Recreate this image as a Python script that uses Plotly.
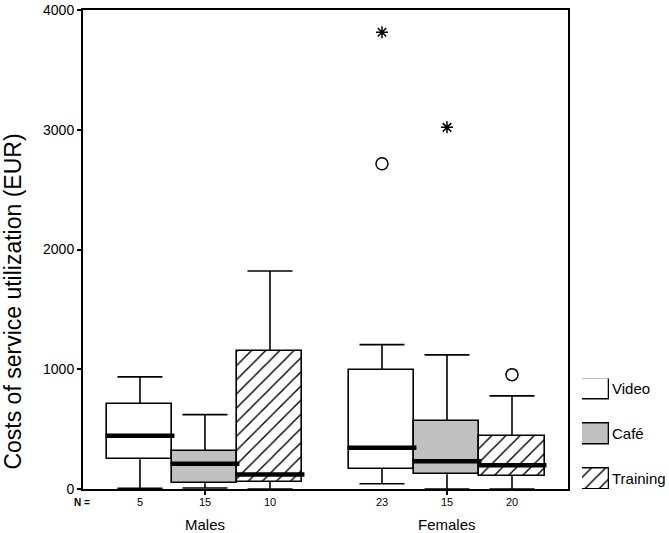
import plotly.graph_objects as go

# ---------------- data ----------------
groups = ["Males", "Females"]
series = ["Video", "Café", "Training"]

n_video = [5, 23]
n_cafe = [15, 15]
n_training = [10, 20]

video_lower = [5, 44]
video_q1 = [248, 168]
video_median = [444, 345]
video_q3 = [710, 994]
video_upper = [936, 1206]

cafe_lower = [8, 0]
cafe_q1 = [47, 124]
cafe_median = [210, 232]
cafe_q3 = [317, 569]
cafe_upper = [621, 1120]

training_lower = [0, 0]
training_q1 = [60, 108]
training_median = [122, 199]
training_q3 = [1155, 444]
training_upper = [1820, 778]

outlier_group = ["Females", "Females", "Females", "Females"]
outlier_series = ["Video", "Video", "Café", "Training"]
outlier_value = [2716, 3814, 3020, 955]
outlier_kind = ["circle", "extreme", "extreme", "circle"]

y_ticks = [0, 1000, 2000, 3000, 4000]

# ---------------- layout constants ----------------
FONT = "Arial, Liberation Sans, sans-serif"
W, H = 669, 533
group_pos = {g: i for i, g in enumerate(groups)}
box_w = 0.2686
cap_w = 0.186
offset = {s: (k - 1) * box_w for k, s in enumerate(series)}
fills = {
    "Video": dict(color="white"),
    "Café": dict(color="#c0c0c0"),
    "Training": dict(color="white",
                     pattern=dict(shape="/", fgcolor="black", bgcolor="white",
                                  size=10, solidity=0.14, fillmode="replace")),
}
stats = {
    "Video": (video_lower, video_q1, video_median, video_q3, video_upper, n_video),
    "Café": (cafe_lower, cafe_q1, cafe_median, cafe_q3, cafe_upper, n_cafe),
    "Training": (training_lower, training_q1, training_median, training_q3,
                 training_upper, n_training),
}

fig = go.Figure()

# boxes
for s in series:
    lo, q1, med, q3, up, n = stats[s]
    xs = [group_pos[g] + offset[s] for g in groups]
    fig.add_trace(go.Bar(
        x=xs, base=q1, y=[b - a for a, b in zip(q1, q3)], width=box_w,
        marker=dict(**fills[s], line=dict(color="black", width=1.6)),
        showlegend=False, hoverinfo="skip", xaxis="x", yaxis="y"))

# whiskers
for s in series:
    lo, q1, med, q3, up, n = stats[s]
    wx, wy = [], []
    for i, g in enumerate(groups):
        c = group_pos[g] + offset[s]
        wx += [c, c, None, c, c, None,
               c - cap_w / 2, c + cap_w / 2, None, c - cap_w / 2, c + cap_w / 2, None]
        wy += [q3[i], up[i], None, q1[i], lo[i], None,
               up[i], up[i], None, lo[i], lo[i], None]
    fig.add_trace(go.Scatter(x=wx, y=wy, mode="lines",
                             line=dict(color="black", width=1.6),
                             showlegend=False, hoverinfo="skip"))

# medians
for s in series:
    lo, q1, med, q3, up, n = stats[s]
    mx, my = [], []
    for i, g in enumerate(groups):
        c = group_pos[g] + offset[s]
        mx += [c - box_w / 2 - 0.008, c + box_w / 2 + 0.008, None]
        my += [med[i], med[i], None]
    fig.add_trace(go.Scatter(x=mx, y=my, mode="lines",
                             line=dict(color="black", width=4.5),
                             showlegend=False, hoverinfo="skip"))

# outliers
for kind, sym, size in [("circle", "circle-open", 12), ("extreme", "asterisk-open", 10)]:
    ox = [group_pos[g] + offset[s] for g, s, k in
          zip(outlier_group, outlier_series, outlier_kind) if k == kind]
    oy = [v for v, k in zip(outlier_value, outlier_kind) if k == kind]
    fig.add_trace(go.Scatter(x=ox, y=oy, mode="markers",
                             marker=dict(symbol=sym, size=size, color="black",
                                         line=dict(color="black", width=1.5)),
                             showlegend=False, hoverinfo="skip"))

# custom legend (swatches drawn as bars on a small helper axis)
leg_pos = {s: len(series) - 1 - k for k, s in enumerate(series)}
for s in series:
    fig.add_trace(go.Bar(
        y=[leg_pos[s]], x=[1], base=[0], orientation="h", width=0.46,
        marker=dict(**fills[s], line=dict(color="black", width=1.3)),
        xaxis="x2", yaxis="y2", showlegend=False, hoverinfo="skip"))

annotations = []
for s in series:
    annotations.append(dict(x=1, y=leg_pos[s], xref="x2", yref="y2", text=s,
                            showarrow=False, xanchor="left", yanchor="middle",
                            xshift=1, font=dict(family=FONT, size=15, color="black")))

# N labels
n_y = (489 - 502.5) / 483
annotations.append(dict(x=-0.002, y=n_y, xref="paper", yref="paper", text="<b>N =</b>",
                        showarrow=False, xanchor="center", yanchor="middle",
                        font=dict(family=FONT, size=10, color="black")))
for s in series:
    n = stats[s][5]
    for i, g in enumerate(groups):
        annotations.append(dict(x=group_pos[g] + offset[s], y=n_y, xref="x", yref="paper",
                                text=str(n[i]), showarrow=False, xanchor="center",
                                yanchor="middle",
                                font=dict(family=FONT, size=11, color="black")))
# group labels
for g in groups:
    annotations.append(dict(x=group_pos[g], y=(489 - 525) / 483, xref="x", yref="paper",
                            text=g, showarrow=False, xanchor="center", yanchor="middle",
                            font=dict(family=FONT, size=15, color="black")))
# y title
annotations.append(dict(x=(13 - 83) / 584, y=(489 - 300) / 483, xref="paper", yref="paper",
                        text="Costs of service utilization (EUR)", textangle=-90,
                        showarrow=False, xanchor="center", yanchor="middle",
                        font=dict(family=FONT, size=23, color="black")))

fig.update_layout(
    width=W, height=H,
    margin=dict(l=83, r=2, t=6, b=44),
    paper_bgcolor="white", plot_bgcolor="white",
    barmode="overlay", bargap=0,
    font=dict(family=FONT, color="black"),
    annotations=annotations,
    xaxis=dict(domain=[0, 485 / 584], range=[-0.504, 1.5], showgrid=False,
               zeroline=False, showline=True, mirror=True, linecolor="black",
               linewidth=2, tickvals=[0, 1], ticktext=["", ""], ticks="outside",
               ticklen=4, tickwidth=2, tickcolor="black"),
    yaxis=dict(range=[0, 4000], tickvals=y_ticks, showgrid=False, zeroline=False,
               showline=True, mirror=True, linecolor="black", linewidth=2,
               ticks="outside", ticklen=4, tickwidth=2, tickcolor="black",
               ticklabeloverflow="allow",
               tickfont=dict(family=FONT, size=14, color="black")),
    xaxis2=dict(domain=[(582 - 83) / 584, (609 - 83) / 584], range=[0, 1],
                anchor="y2", visible=False, fixedrange=True),
    yaxis2=dict(domain=[0, (489 - 377.5) / 483], range=[-0.23, 2.23],
                anchor="x2", visible=False, fixedrange=True),
)

fig.write_html("out.html", config={"displayModeBar": False},
               post_script="document.body.style.margin='0';document.body.style.overflow='hidden';")
